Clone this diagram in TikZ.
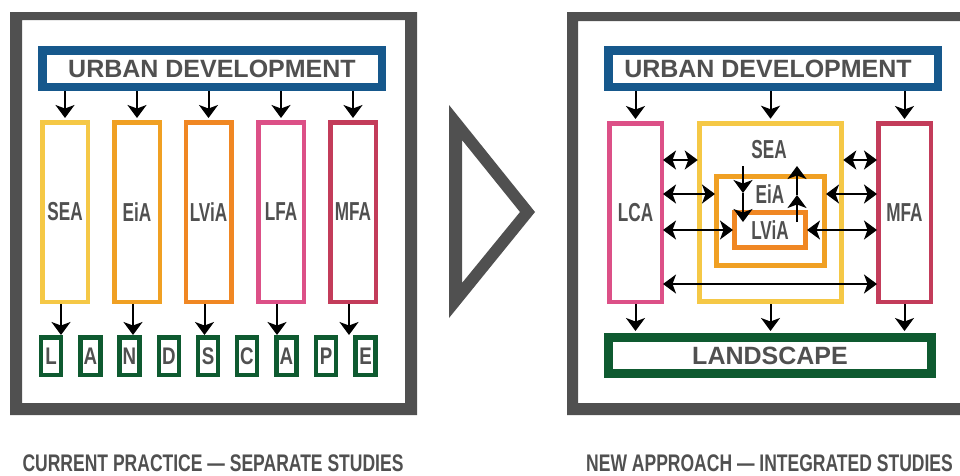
\documentclass[tikz,border=0pt]{standalone}
\usepackage{fontspec}
\setmainfont{Liberation Sans}
\newfontfamily\condfont{Liberation Sans}[FakeStretch=0.66]
\newfontfamily\capfont{Liberation Sans}[FakeStretch=0.73]
\newfontfamily\letfont{Liberation Sans}[FakeStretch=0.78]
\usetikzlibrary{arrows.meta}
\definecolor{framegray}{RGB}{80,80,80}
\definecolor{txtgray}{RGB}{80,80,80}
\definecolor{udblue}{RGB}{22,88,140}
\definecolor{lgreen}{RGB}{14,90,48}
\definecolor{seayel}{RGB}{245,200,70}
\definecolor{eiaor}{RGB}{240,160,35}
\definecolor{lviaor}{RGB}{240,135,35}
\definecolor{lfapink}{RGB}{220,80,135}
\definecolor{mfared}{RGB}{195,60,90}
\tikzset{
  udbox/.style={draw=udblue, line width=8.5pt, fill=white, inner sep=0pt,
    minimum height=36.5pt, text=txtgray, font={\bfseries\fontsize{25}{30}\selectfont}},
  landbox/.style={draw=lgreen, line width=9pt, fill=white, inner sep=0pt,
    minimum height=36pt, text=txtgray, font={\bfseries\fontsize{25}{30}\selectfont}},
  colbox/.style={line width=4.5pt, inner sep=0pt, minimum width=45.5pt,
    minimum height=179.5pt, text=txtgray, font={\condfont\bfseries\fontsize{26}{30}\selectfont}},
  nestbox/.style={line width=5pt, inner sep=0pt, text=txtgray,
    font={\condfont\bfseries\fontsize{26}{30}\selectfont}},
  lbl/.style={inner sep=0pt, text=txtgray, font={\condfont\bfseries\fontsize{26}{30}\selectfont}},
  letbox/.style={draw=lgreen, line width=4.5pt, inner sep=0pt, minimum width=20pt,
    minimum height=37.5pt, text=txtgray, font={\letfont\bfseries\fontsize{24}{28}\selectfont}},
  capt/.style={inner sep=0pt, text=txtgray, font={\capfont\bfseries\fontsize{24}{28}\selectfont}},
  arr/.style={line width=2pt, -{Stealth[length=13pt,width=19pt,inset=3.5pt]}},
  darr/.style={line width=2pt, {Stealth[length=13pt,width=19pt,inset=3.5pt]}-{Stealth[length=13pt,width=19pt,inset=3.5pt]}}
}
\begin{document}
\begin{tikzpicture}[x=1pt,y=-1pt]
\useasboundingbox (0,0) rectangle (960,475);
\clip (0,0) rectangle (960,475);
% frames
\fill[framegray, even odd rule] (10,12) rectangle (417,415) (22,20) rectangle (405,403);
\fill[framegray, even odd rule] (567,12) rectangle (985,415) (578,21) rectangle (990,403);
% transition triangle
\fill[framegray, even odd rule] (449,105) -- (535,212) -- (449,318) -- cycle
  (462,140) -- (520,212) -- (462,283) -- cycle;

% ---------- left panel ----------
\node[udbox, minimum width=339.5pt] (ud1) at (212,68.5) {URBAN DEVELOPMENT};
\node[colbox, draw=seayel] (sea1) at (65,212) {SEA};
\node[colbox, draw=eiaor] (eia1) at (137,212) {EiA};
\node[colbox, draw=lviaor] (lvia1) at (208.5,212) {LViA};
\node[colbox, draw=lfapink] (lfa1) at (281,212) {LFA};
\node[colbox, draw=mfared] (mfa1) at (353,212) {MFA};
\foreach \n in {sea1,eia1,lvia1,lfa1,mfa1}{
  \draw[arr, shorten >=2pt] (ud1.south -| \n) -- (\n.north);
}
\node[letbox] (l1) at (51,356) {L};
\node[letbox] (l2) at (90.5,356) {A};
\node[letbox] (l3) at (129.5,356) {N};
\node[letbox] (l4) at (169,356) {D};
\node[letbox] (l5) at (208,356) {S};
\node[letbox] (l6) at (247,356) {C};
\node[letbox] (l7) at (286.5,356) {A};
\node[letbox] (l8) at (326,356) {P};
\node[letbox] (l9) at (365.5,356) {E};
\foreach \n/\t in {sea1/l1,eia1/l3,lvia1/l5,lfa1/l7,mfa1/l9}{
  \draw[arr] ([xshift=-4pt]\n.south) -- ([xshift=-4pt]\n.south |- \t.north);
}
\node[capt] (cap1) at (213,463) {CURRENT PRACTICE — SEPARATE STUDIES};

% ---------- right panel ----------
\node[udbox, minimum width=329.5pt] (ud2) at (773,68.5) {URBAN DEVELOPMENT\hspace*{10pt}};
\node[colbox, draw=lfapink, minimum width=52.5pt, minimum height=178.5pt] (lca) at (635.5,212.5) {LCA};
\node[colbox, draw=mfared, minimum width=52.5pt, minimum height=178.5pt] (mfa2) at (904.5,212.5) {MFA};
\node[nestbox, draw=seayel, minimum width=142.5pt, minimum height=178.5pt] (sea2) at (770.5,212.5) {};
\node[nestbox, draw=eiaor, minimum width=108pt, minimum height=89pt] (eia2) at (770.5,221) {};
\node[nestbox, draw=lviaor, minimum width=71pt, minimum height=35pt] (lvia2) at (770,230) {LViA};
\node[lbl] (seal) at (769,150) {SEA};
\node[lbl] (eial) at (770,194) {EiA};
\node[landbox, minimum width=323pt] (land) at (770,355.5) {LANDSCAPE};
\foreach \n in {lca,sea2,mfa2}{
  \draw[arr, shorten >=2pt] (ud2.south -| \n) -- (\n.north);
  \draw[arr, shorten >=2pt] (\n.south) -- (\n.south |- land.north);
}
\coordinate (r1) at (0,160);
\coordinate (r2) at (0,194);
\coordinate (r3) at (0,230);
\coordinate (r4) at (0,284);
\draw[darr, shorten <=-1pt, shorten >=-1pt] (lca.east |- r1) -- (sea2.west |- r1);
\draw[darr, shorten <=-1pt, shorten >=-1pt] (sea2.east |- r1) -- (mfa2.west |- r1);
\draw[darr, shorten <=-1pt, shorten >=-1pt] (lca.east |- r2) -- (eia2.west |- r2);
\draw[darr, shorten <=-1pt, shorten >=-1pt] (eia2.east |- r2) -- (mfa2.west |- r2);
\draw[darr, shorten <=-1pt, shorten >=-1pt] (lca.east |- r3) -- (lvia2.west |- r3);
\draw[darr, shorten <=-1pt, shorten >=-1pt] (lvia2.east |- r3) -- (mfa2.west |- r3);
\draw[darr, shorten <=-1pt, shorten >=-1pt] (lca.east |- r4) -- (mfa2.west |- r4);
% vertical arrows through the nest
\coordinate (dA) at (743,166);
\coordinate (dB) at (743,193);
\coordinate (dC) at (743,222);
\draw[arr] (dA) -- (dB);
\draw[arr] (dB) -- (dC);
\coordinate (uA) at (797,222);
\coordinate (uB) at (797,195);
\coordinate (uC) at (797,166);
\draw[arr] (uA) -- (uB);
\draw[arr] (uB) -- (uC);
\node[capt] (cap2) at (769.5,463) {NEW APPROACH — INTEGRATED STUDIES};
\end{tikzpicture}
\end{document}
